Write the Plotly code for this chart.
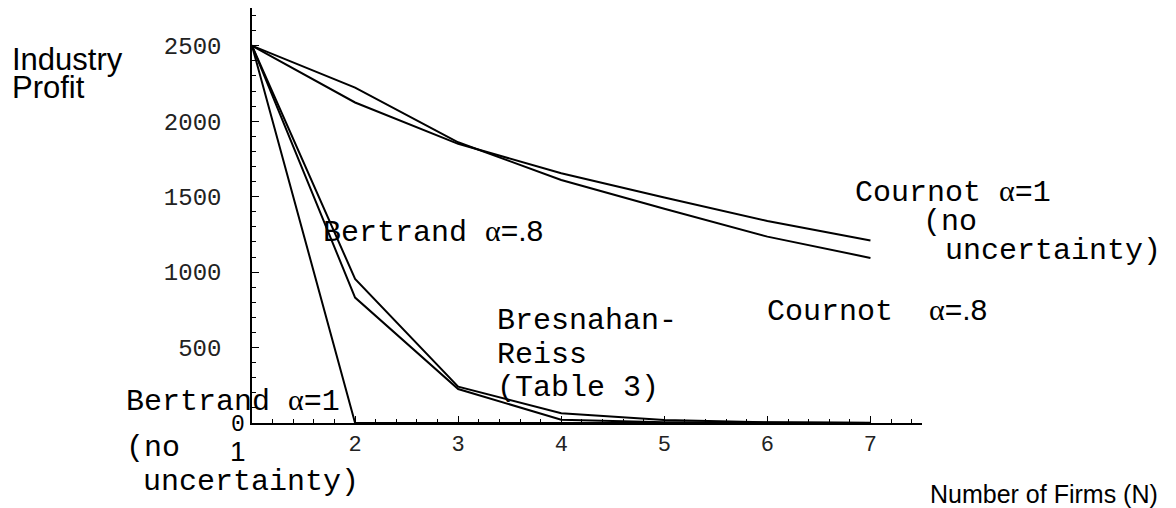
import plotly.graph_objects as go

# number of firms and industry profit for each model
firms = [1, 2, 3, 4, 5, 6, 7]
cournot_no_unc = [2500, 2222, 1860, 1610, 1420, 1235, 1094]
cournot_08 = [2500, 2124, 1850, 1655, 1494, 1339, 1209]
bertrand_08 = [2500, 955, 241, 64, 20, 5, 2]
bresnahan_reiss = [2500, 831, 225, 22, 5, 1, 0]
bertrand_no_unc = [2500, 0, 0, 0, 0, 0, 0]

x_ticks = [2, 3, 4, 5, 6, 7]
y_ticks = [500, 1000, 1500, 2000, 2500]

MONO = "Liberation Mono, Courier New, monospace"
SANS = "Liberation Sans, Arial, sans-serif"
SERIF = "Liberation Serif, Times New Roman, serif"

# page body has an 8px margin, so the figure is a bit smaller and positions shift by 8
OFF = 8
W, H = 1176 - OFF, 508 - OFF
L, R, T, B = 252 - OFF, 922 - OFF, 8 - OFF, 423 - OFF   # plot area in figure pixels


def at(px, py):
    # screen pixel position -> paper coords
    return (px - OFF - L) / (R - L), (B - (py - OFF)) / (B - T)


fig = go.Figure()
for ys in [cournot_no_unc, cournot_08, bertrand_08, bresnahan_reiss, bertrand_no_unc]:
    fig.add_trace(go.Scatter(x=firms, y=ys, mode="lines",
                             line=dict(color="black", width=2),
                             showlegend=False, hoverinfo="skip"))

alpha = f"<span style='font-family:{SERIF}'>α</span>"
labels = [
    # text, px, py, font, size, anchor
    ("Industry", 10, 60, SANS, 31, "left"),
    ("Profit", 10, 88, SANS, 31, "left"),
    (f"Bertrand {alpha}<span style='font-family:{SANS}'>=.8</span>", 321, 232, MONO, 30, "left"),
    (f"Bertrand {alpha}=1", 124, 401, MONO, 30, "left"),
    ("(no", 124, 448, MONO, 30, "left"),
    ("uncertainty)", 141, 482, MONO, 30, "left"),
    ("Bresnahan-", 495, 321, MONO, 30, "left"),
    ("Reiss", 495, 355, MONO, 30, "left"),
    ("(Table 3)", 495, 388, MONO, 30, "left"),
    (f"Cournot {alpha}=1", 853, 192, MONO, 30, "left"),
    ("(no", 921, 222, MONO, 30, "left"),
    ("uncertainty)", 943, 251, MONO, 30, "left"),
    (f"Cournot  {alpha}<span style='font-family:{SANS}'>=.8</span>", 765, 311, MONO, 30, "left"),
    ("Number of Firms (N)", 928, 494, SANS, 25, "left"),
    ("1", 238, 451, SANS, 28, "center"),
    ("0", 238, 425, MONO, 23, "center"),
]
for txt, px, py, fam, size, anchor in labels:
    xp, yp = at(px, py)
    fig.add_annotation(text=txt, x=xp, y=yp, xref="paper", yref="paper",
                       xanchor=anchor, yanchor="middle", showarrow=False,
                       font=dict(family=fam, size=size, color="black"))

fig.update_xaxes(range=[1, 7.5], showgrid=False, zeroline=False,
                 showline=True, linecolor="black", linewidth=1.5,
                 tickmode="array", tickvals=x_ticks, ticks="inside",
                 ticklen=7, tickwidth=1, tickcolor="black",
                 tickfont=dict(family=MONO, size=22, color="#222"),
                 ticklabelstandoff=0,
                 minor=dict(tick0=1, dtick=0.2, ticks="inside", ticklen=4,
                            tickwidth=1, tickcolor="black"))
fig.update_yaxes(range=[0, 2750], showgrid=False, zeroline=False,
                 showline=True, linecolor="black", linewidth=1.5,
                 tickmode="array", tickvals=y_ticks, ticks="inside",
                 ticklen=7, tickwidth=1, tickcolor="black",
                 tickfont=dict(family=MONO, size=24, color="#222"),
                 ticklabelstandoff=24,
                 minor=dict(tick0=0, dtick=100, ticks="inside", ticklen=4,
                            tickwidth=1, tickcolor="black"))

fig.update_layout(width=W, height=H, plot_bgcolor="white", paper_bgcolor="white",
                  margin=dict(l=L, r=W - R, t=T, b=H - B))

fig.write_html("out.html")
